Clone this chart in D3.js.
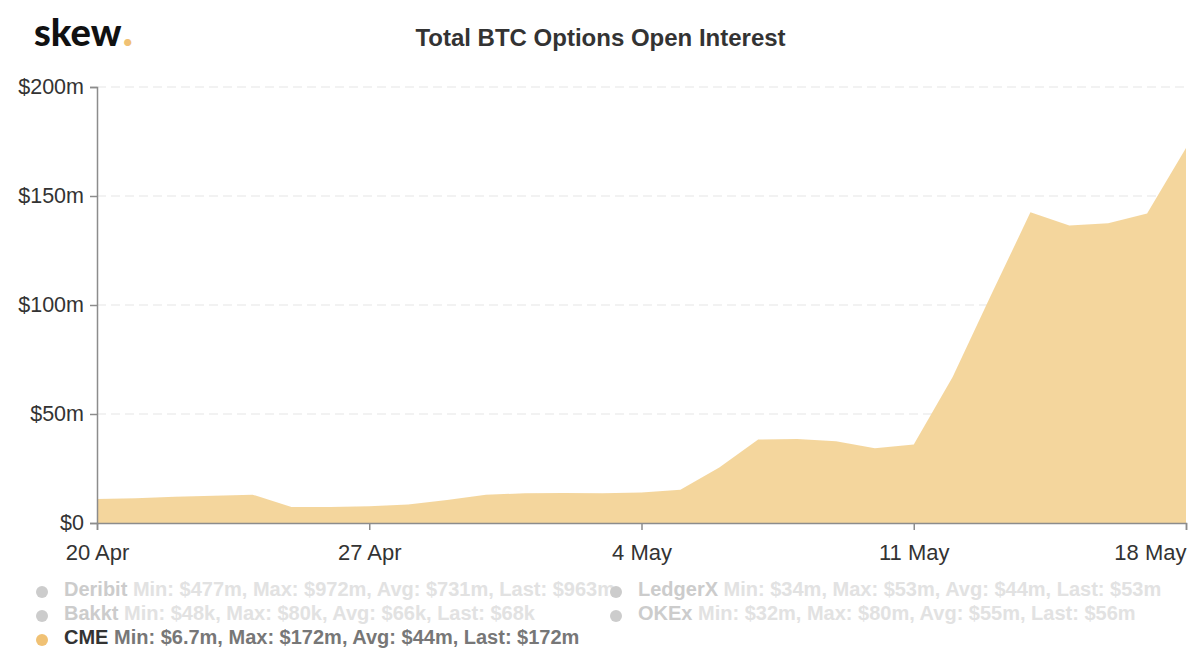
<!DOCTYPE html>
<html>
<head>
<meta charset="utf-8">
<script src="https://cdn.jsdelivr.net/npm/d3@7"></script>
<style>
  html, body { margin: 0; padding: 0; background: #fff; }
  svg { display: block; font-family: "Liberation Sans", Arial, sans-serif; }
</style>
</head>
<body>
<svg id="chart" width="1200" height="670"></svg>
<script>
// daily open interest for CME, $m
var dates = ["2020-04-20","2020-04-21","2020-04-22","2020-04-23","2020-04-24","2020-04-25","2020-04-26",
  "2020-04-27","2020-04-28","2020-04-29","2020-04-30","2020-05-01","2020-05-02","2020-05-03",
  "2020-05-04","2020-05-05","2020-05-06","2020-05-07","2020-05-08","2020-05-09","2020-05-10",
  "2020-05-11","2020-05-12","2020-05-13","2020-05-14","2020-05-15","2020-05-16","2020-05-17","2020-05-18"];
var cme = [11,11.4,12,12.5,13,7.3,7.3,7.7,8.5,10.5,13,13.6,13.8,13.6,14,15.2,25.5,38.3,38.5,37.5,34.3,36,67,105,142.5,136.5,137.5,142,172];

var yTicks = [0,50,100,150,200];
var xTickDates = ["2020-04-20","2020-04-27","2020-05-04","2020-05-11","2020-05-18"];

var legendNames = ["Deribit","Bakkt","CME","LedgerX","OKEx"];
var legendStats = [
  "Min: $477m, Max: $972m, Avg: $731m, Last: $963m",
  "Min: $48k, Max: $80k, Avg: $66k, Last: $68k",
  "Min: $6.7m, Max: $172m, Avg: $44m, Last: $172m",
  "Min: $34m, Max: $53m, Avg: $44m, Last: $53m",
  "Min: $32m, Max: $80m, Avg: $55m, Last: $56m"
];
var legendActive = [false,false,true,false,false];

var parse = d3.utcParse("%Y-%m-%d");
var svg = d3.select("#chart");

var x = d3.scaleUtc().domain([parse(dates[0]), parse(dates[dates.length-1])]).range([97,1186]);
var y = d3.scaleLinear().domain([0,200]).range([523,87]);

// logo + title
var logo = svg.append("text").attr("x",34).attr("y",46)
  .style("font-family","Lato, sans-serif").style("font-weight",900).style("font-size","38px").style("fill","#111");
logo.append("tspan").text("skew");
logo.append("tspan").text(".").attr("dx",1).style("fill","#f0c174").style("font-size","44px");

svg.append("text").attr("x",600.5).attr("y",46).attr("text-anchor","middle")
  .style("font-weight","bold").style("font-size","24px").style("fill","#333")
  .text("Total BTC Options Open Interest");

// grid
svg.append("g").selectAll("line").data(yTicks.slice(1)).enter().append("line")
  .attr("x1",97).attr("x2",1186)
  .attr("y1",function(d){return y(d);}).attr("y2",function(d){return y(d);})
  .attr("stroke","#eeeeee").attr("stroke-width",1.5).attr("stroke-dasharray","9,5");

// area
var area = d3.area()
  .x(function(d,i){return x(parse(dates[i]));})
  .y0(y(0))
  .y1(function(d){return y(d);});
svg.append("path").datum(cme).attr("d",area).attr("fill","#f4d59b").attr("fill-opacity",0.98);

// axes
var yAxis = d3.axisLeft(y).tickValues(yTicks).tickSize(7).tickPadding(6)
  .tickFormat(function(d){return d===0 ? "$0" : "$"+d+"m";});
var xAxis = d3.axisBottom(x).tickValues(xTickDates.map(parse)).tickSize(7).tickPadding(12)
  .tickFormat(d3.utcFormat("%-d %b"));

var gy = svg.append("g").attr("transform","translate(97,0)").call(yAxis);
var gx = svg.append("g").attr("transform","translate(0,523)").call(xAxis);
[gy,gx].forEach(function(g){
  g.selectAll("path,line").attr("stroke","#8c8c8c").attr("stroke-width",1.5);
  g.selectAll("text").style("font-family",'"Liberation Sans", Arial, sans-serif').style("fill","#333");
});
gy.selectAll("text").style("font-size","21.5px");
gx.selectAll("text").style("font-size","22px").attr("y",21).attr("dy","0.71em");
gx.selectAll(".tick:last-of-type text").attr("text-anchor","end").attr("dx","0");

// legend
var legendX = [42,42,42,616,616];
var legendY = [592,616,640,592,616];
var item = svg.append("g").selectAll("g").data(legendNames).enter().append("g")
  .attr("transform",function(d,i){return "translate("+legendX[i]+","+legendY[i]+")";});
item.append("circle").attr("r",6).attr("cy",0)
  .attr("fill",function(d,i){return legendActive[i] ? "#f0c174" : "#cccccc";});
var label = item.append("text").attr("x",22).attr("y",3.5)
  .style("font-size","20px").style("font-weight","bold");
label.append("tspan").text(function(d){return d;})
  .style("fill",function(d,i){return legendActive[i] ? "#333" : "#cccccc";});
label.append("tspan").text(function(d,i){return " "+legendStats[i];})
  .style("fill",function(d,i){return legendActive[i] ? "#777" : "#e2e2e2";});
</script>
</body>
</html>
